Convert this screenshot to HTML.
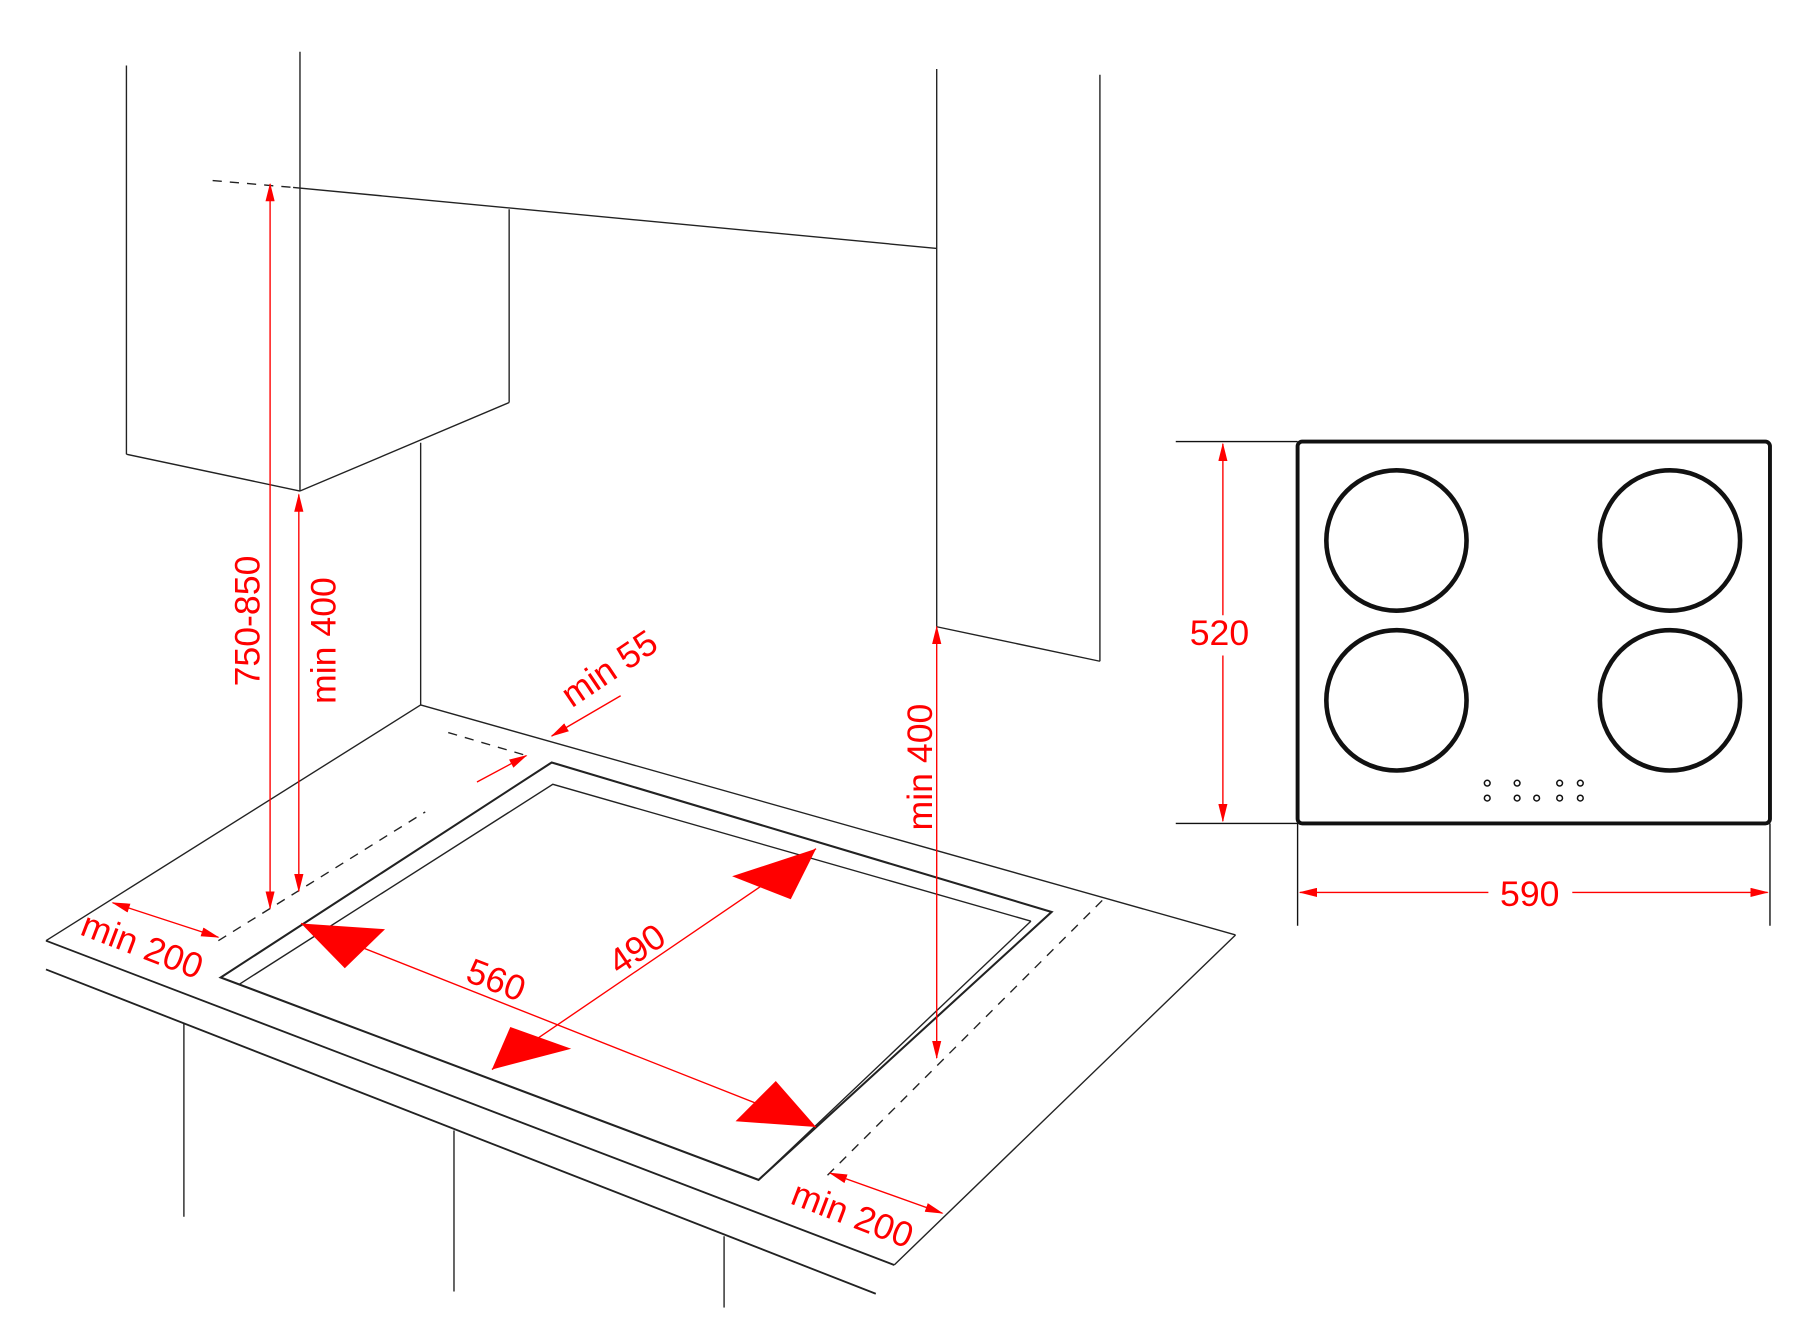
<!DOCTYPE html>
<html><head><meta charset="utf-8"><style>
html,body{margin:0;padding:0;background:#fff;}
svg{display:block;}
text{font-family:"Liberation Sans",Arial,sans-serif;fill:#f00;font-size:31px;}
</style></head><body>
<svg width="1801" height="1334" viewBox="0 0 1567 1160" preserveAspectRatio="none" xmlns="http://www.w3.org/2000/svg">
<defs>
<marker id="a" markerWidth="16" markerHeight="8" refX="15" refY="4" orient="auto-start-reverse" markerUnits="userSpaceOnUse">
<path d="M0,0 L16,4 L0,8 Z" fill="#f00"/></marker>
</defs>
<g stroke="#222" stroke-width="1.2" fill="none">
<line x1="110" y1="57" x2="110" y2="395"/>
<line x1="110" y1="395" x2="261" y2="427"/>
<line x1="261" y1="45" x2="261" y2="427"/>
<line x1="255" y1="163" x2="815" y2="216"/>
<line x1="443" y1="182" x2="443" y2="350"/>
<line x1="443" y1="350" x2="261" y2="427"/>
<line x1="366" y1="385" x2="366" y2="613"/>
<line x1="815" y1="60" x2="815" y2="545"/>
<line x1="815" y1="545" x2="957" y2="575"/>
<line x1="957" y1="65" x2="957" y2="575"/>
<line x1="366" y1="613" x2="40" y2="818"/>
<line x1="366" y1="613" x2="1075" y2="813"/>
<line x1="1075" y1="813" x2="778" y2="1100"/>
<line x1="40" y1="818" x2="778" y2="1100" stroke-width="1.6"/>
<line x1="40" y1="843" x2="762" y2="1125" stroke-width="1.6"/>
<line x1="160" y1="890" x2="160" y2="1058"/>
<line x1="395" y1="983" x2="395" y2="1123"/>
<line x1="630" y1="1075" x2="630" y2="1137"/>
<polygon points="480,663 915,793 660,1026 192,850" stroke-width="1.8"/>
<polyline points="208,856 481,682 897,801"/>
<line x1="897" y1="801" x2="660" y2="1026"/>
<g stroke-dasharray="8,7">
<line x1="185" y1="157" x2="255" y2="163"/>
<line x1="390" y1="637" x2="458" y2="657"/>
<line x1="190" y1="818" x2="370" y2="706"/>
<line x1="720" y1="1022" x2="962" y2="780"/>
</g>
</g>
<g stroke="#f00" stroke-width="1.2" fill="none">
<line x1="235" y1="160" x2="235" y2="790" marker-start="url(#a)" marker-end="url(#a)"/>
<line x1="260" y1="430" x2="260" y2="775" marker-start="url(#a)" marker-end="url(#a)"/>
<line x1="815" y1="545" x2="815" y2="920" marker-start="url(#a)" marker-end="url(#a)"/>
<line x1="540" y1="605" x2="480" y2="640" marker-end="url(#a)"/>
<line x1="415" y1="680" x2="458" y2="657" marker-end="url(#a)"/>
<line x1="98" y1="785" x2="190" y2="815" marker-start="url(#a)" marker-end="url(#a)"/>
<line x1="722" y1="1020" x2="820" y2="1055" marker-start="url(#a)" marker-end="url(#a)"/>
<line x1="262" y1="803" x2="710" y2="980"/>
<line x1="428" y1="930" x2="710" y2="738"/>
<line x1="1064" y1="386" x2="1064" y2="535" marker-start="url(#a)"/>
<line x1="1064" y1="570" x2="1064" y2="714" marker-end="url(#a)"/>
<line x1="1131" y1="776" x2="1295" y2="776" marker-start="url(#a)"/>
<line x1="1368" y1="776" x2="1538" y2="776" marker-end="url(#a)"/>
</g>
<g fill="#f00">
<polygon points="262,803 335,808 300,842"/>
<polygon points="710,980 640,975 675,940"/>
<polygon points="428,930 444,893 497,912"/>
<polygon points="710,738 637,762 688,782"/>
</g>
<text transform="translate(226,540) rotate(-90)" text-anchor="middle">750-850</text>
<text transform="translate(292,557) rotate(-90)" text-anchor="middle">min 400</text>
<text transform="translate(811,667) rotate(-90)" text-anchor="middle">min 400</text>
<text transform="translate(536,590) rotate(-34)" text-anchor="middle">min 55</text>
<text transform="translate(120,832) rotate(21)" text-anchor="middle">min 200</text>
<text transform="translate(738,1066) rotate(21)" text-anchor="middle">min 200</text>
<text transform="translate(428,862) rotate(21)" text-anchor="middle">560</text>
<text transform="translate(560,834) rotate(-34)" text-anchor="middle">490</text>
<text x="1061" y="561" text-anchor="middle">520</text>
<text x="1331" y="788" text-anchor="middle">590</text>
<g stroke="#111" fill="none">
<line x1="1023" y1="384" x2="1129" y2="384" stroke-width="1.2"/>
<line x1="1023" y1="716" x2="1129" y2="716" stroke-width="1.2"/>
<line x1="1129" y1="716" x2="1129" y2="805" stroke-width="1.2"/>
<line x1="1540" y1="716" x2="1540" y2="805" stroke-width="1.2"/>
<rect x="1129" y="384" width="411" height="332" rx="4" stroke-width="3.4"/>
<g stroke-width="4">
<ellipse cx="1215" cy="470" rx="61" ry="61"/>
<ellipse cx="1453" cy="470" rx="61" ry="61"/>
<ellipse cx="1215" cy="609" rx="61" ry="61"/>
<ellipse cx="1453" cy="609" rx="61" ry="61"/>
</g>
<g stroke-width="1.3">
<circle cx="1294" cy="681" r="2.5"/><circle cx="1320" cy="681" r="2.5"/><circle cx="1357" cy="681" r="2.5"/><circle cx="1375" cy="681" r="2.5"/>
<circle cx="1294" cy="694" r="2.5"/><circle cx="1320" cy="694" r="2.5"/><circle cx="1337" cy="694" r="2.5"/><circle cx="1357" cy="694" r="2.5"/><circle cx="1375" cy="694" r="2.5"/>
</g>
</g>
</svg>
</body></html>
